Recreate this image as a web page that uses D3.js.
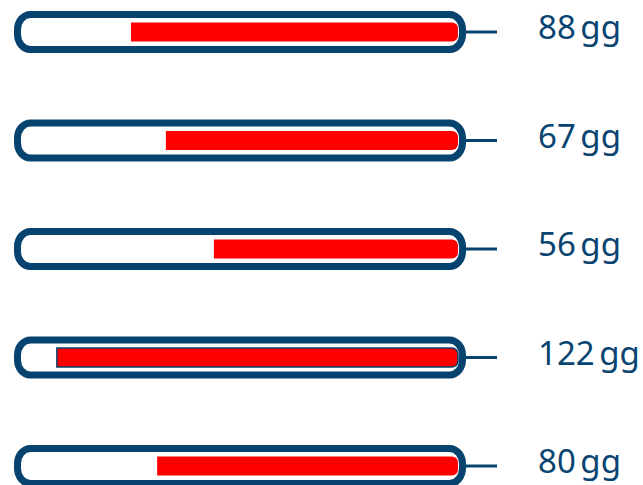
<!DOCTYPE html>
<head>
  <meta charset="utf-8">
  <script src="https://d3js.org/d3.v7.min.js"></script>
  <style>
    body {
      margin: 0;
      background: #fff;
    }

    .label {
      font-family: "Noto Sans", "Open Sans", sans-serif;
      font-size: 33px;
      word-spacing: -4px;
      fill: #0a4470;
    }
  </style>
</head>

<body>
  <div id="vis"></div>
  <script>

    // values printed next to each tube
    var values = [88, 67, 56, 122, 80];
    var unit = "gg";
    // how full each tube is drawn (percent of inner length)
    var fillLevels = [75, 67, 56, 92, 69];

    var width = 643,
      height = 485;

    var navy = "#07436f",
      red = "#ff0000";

    var tube = { left: 14, right: 466, h: 42, stroke: 7, pad: 8 },
      lineEnd = 497,
      labelX = 538;

    var svg = d3.select("#vis")
      .append("svg")
      .attr("width", width)
      .attr("height", height);

    var y = d3.scalePoint()
      .domain(d3.range(values.length))
      .range([32, 466]);

    var innerRight = tube.right - tube.pad,
      innerLeft = tube.left + tube.pad;

    var fill = d3.scaleLinear()
      .domain([0, 100])
      .range([0, innerRight - innerLeft]);

    var rows = svg.selectAll(".row")
      .data(values)
      .enter()
      .append("g")
      .attr("class", "row")
      .attr("transform", function (d, i) { return "translate(0," + y(i) + ")"; });

    // connector line
    rows.append("line")
      .attr("x1", tube.right - 2)
      .attr("x2", lineEnd)
      .attr("y1", 0)
      .attr("y2", 0)
      .attr("stroke", navy)
      .attr("stroke-width", 3);

    // tube outline
    rows.append("rect")
      .attr("x", tube.left + tube.stroke / 2)
      .attr("y", -tube.h / 2 + tube.stroke / 2)
      .attr("width", tube.right - tube.left - tube.stroke)
      .attr("height", tube.h - tube.stroke)
      .attr("rx", 13)
      .attr("ry", 15)
      .attr("fill", "#fff")
      .attr("stroke", navy)
      .attr("stroke-width", tube.stroke);

    // red level, square on the left, rounded on the right
    var barH = 19, r = 6;
    rows.append("path")
      .attr("d", function (d, i) {
        var w = fill(fillLevels[i]);
        var x0 = innerRight - w, x1 = innerRight;
        var p = d3.path();
        p.moveTo(x0, -barH / 2);
        p.lineTo(x1 - r, -barH / 2);
        p.arcTo(x1, -barH / 2, x1, -barH / 2 + r, r);
        p.lineTo(x1, barH / 2 - r);
        p.arcTo(x1, barH / 2, x1 - r, barH / 2, r);
        p.lineTo(x0, barH / 2);
        p.closePath();
        return p.toString();
      })
      .attr("fill", red)
      .attr("stroke", function (d, i) { return d === d3.max(values) ? navy : "none"; })
      .attr("stroke-width", 1.5);

    rows.append("text")
      .attr("class", "label")
      .attr("x", labelX)
      .attr("y", 7)
      .text(function (d) { return d + " " + unit; });

  </script>
</body>
